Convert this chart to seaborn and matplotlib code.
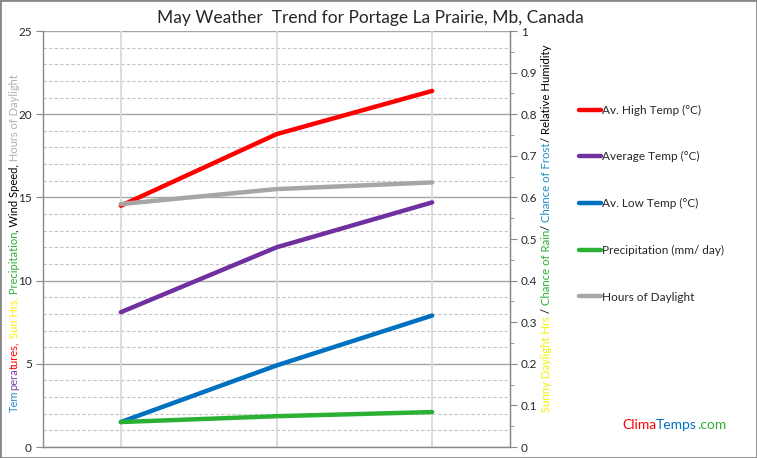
import matplotlib
matplotlib.use("Agg")
import matplotlib.pyplot as plt
import seaborn as sns
import pandas as pd
from matplotlib.ticker import MultipleLocator

# ---- data ----
positions = [0, 1, 2]          # start, middle, end of May
series_names = ["Av. High Temp (°C)", "Average Temp (°C)", "Av. Low Temp (°C)",
                "Precipitation (mm/ day)", "Hours of Daylight"]
high_temp = [14.5, 18.8, 21.4]
avg_temp = [8.1, 12.0, 14.7]
low_temp = [1.5, 4.9, 7.9]
precip = [1.5, 1.85, 2.1]
daylight = [14.6, 15.5, 15.9]
colors = ["#ff0000", "#7030a0", "#0070c0", "#2cb034", "#a6a6a6"]

title = "May Weather  Trend for Portage La Prairie, Mb, Canada"

rows = []
for name, vals in zip(series_names, [high_temp, avg_temp, low_temp, precip, daylight]):
    for p, v in zip(positions, vals):
        rows.append({"pos": p, "value": v, "series": name})
df = pd.DataFrame(rows)

sns.set_style("white")
plt.rcParams["font.family"] = ["Lato", "DejaVu Sans"]

W, H = 757, 458
fig = plt.figure(figsize=(W / 100, H / 100), dpi=100)
L, R, T, B = 43, 510, 31, 447
ax = fig.add_axes([L / W, 1 - B / H, (R - L) / W, (B - T) / H])

ax.set_ylim(0, 25)
ax.set_xlim(-0.5, 2.5)
ax.yaxis.set_major_locator(MultipleLocator(5))
ax.yaxis.set_minor_locator(MultipleLocator(1))
ax.xaxis.grid(False)
ax.yaxis.grid(True, which="major", color="#a6a6a6", linewidth=1.0, linestyle="-")
ax.yaxis.grid(True, which="minor", color="#c4c4c4", linewidth=0.8, linestyle=(0, (3, 2)))
ax.vlines(positions, 0, 25, colors="#dcdcdc", linewidth=1.4, linestyles="solid", zorder=1)
ax.set_axisbelow(True)

sns.lineplot(data=df, x="pos", y="value", hue="series", hue_order=series_names,
             palette=colors, linewidth=3.2, ax=ax, legend=True, zorder=3)

ax.set_xticks([-0.5, 0.5, 1.5, 2.5])
ax.set_xticklabels([])
ax.set_xlabel("")
ax.set_ylabel("")
ax.tick_params(axis="x", which="major", length=5, color="#888888", direction="out")
ax.tick_params(axis="y", which="major", length=5, color="#888888", direction="out",
               labelsize=8.5, pad=3)
ax.tick_params(axis="y", which="minor", length=0)
for s in ["left", "bottom", "right"]:
    ax.spines[s].set_color("#888888")
    ax.spines[s].set_linewidth(1.0)
ax.spines["top"].set_visible(False)

ax2 = ax.twinx()
ax2.grid(False)
ax2.set_ylim(0, 1)
ax2.yaxis.set_major_locator(MultipleLocator(0.1))
ax2.yaxis.set_minor_locator(MultipleLocator(0.05))
ax2.yaxis.set_major_formatter(matplotlib.ticker.FuncFormatter(lambda v, p: f"{v:g}"))
ax2.tick_params(axis="y", which="major", length=5, color="#888888", labelsize=8.5, pad=3)
ax2.tick_params(axis="y", which="minor", length=3, color="#888888")
for s in ["left", "top", "bottom"]:
    ax2.spines[s].set_visible(False)
ax2.spines["right"].set_color("#888888")

sns.move_legend(ax, loc="center left", bbox_to_anchor=(1.124, 0.585), frameon=False,
                title=None, labelspacing=3.02, handlelength=1.9, handletextpad=0.05,
                fontsize=8.5)

fig.text(370 / W, 1 - 18 / H, title, ha="center", va="center", fontsize=12.5)

# multicolour rotated axis titles
fig.canvas.draw()
renderer = fig.canvas.get_renderer()

def vtext(x_px, y_bottom_px, pieces, size):
    y = y_bottom_px
    for txt, col in pieces:
        t = fig.text(x_px / W, 1 - y / H, txt, rotation=90, ha="center", va="bottom",
                     color=col, fontsize=size)
        bb = t.get_window_extent(renderer)
        y -= bb.height

left_pieces = [("Tem", "#2e8bc8"), ("pera", "#8040a8"), ("tures,", "#ff0000"),
               (" Sun Hrs,", "#ffee00"), (" Precipitation", "#2cb034"),
               (", Wind Speed,", "#000000"), (" Hours of Daylight", "#b0b0b0")]
vtext(14, 412, left_pieces, 8.0)
right_pieces = [("Sunny Daylight Hrs", "#f2f200"), (" / ", "#000000"),
                ("Chance of Rain", "#2cb034"), ("/ ", "#000000"),
                ("Chance of Frost", "#1f8fc8"), ("/ Relative Humidity", "#000000")]
vtext(546, 412, right_pieces, 8.2)

# logo
t1 = fig.text(622 / W, 1 - 425 / H, "Clima", color="#ff0000", fontsize=10, va="center")
fig.canvas.draw()
x = t1.get_window_extent(renderer).x1
t2 = fig.text(x / W, 1 - 425 / H, "Temps", color="#0070c0", fontsize=10, va="center")
x = t2.get_window_extent(renderer).x1
fig.text(x / W, 1 - 425 / H, ".com", color="#2cb034", fontsize=10, va="center")

# border
fig.patches.append(matplotlib.patches.Rectangle((0, 0), 1, 1, transform=fig.transFigure,
                                                fill=False, edgecolor="#888888", linewidth=2))
fig.savefig("out.png", dpi=100)
